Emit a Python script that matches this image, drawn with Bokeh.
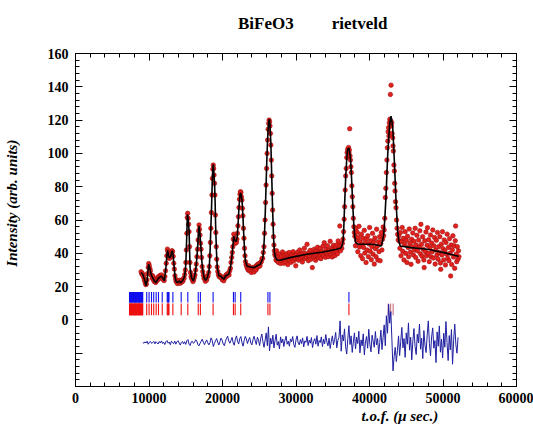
from bokeh.plotting import figure
from bokeh.models import Range1d, LinearAxis, SingleIntervalTicker, Title, Div, CustomJSTickFormatter
from bokeh.layouts import column
from bokeh.embed import file_html
from bokeh.resources import INLINE

# ---------------- data ----------------
title_left = "BiFeO3"
title_right = "rietveld"
x_title = "t.o.f. (\u03bc sec.)"
y_title = "Intensity (arb. units)"

# calculated profile (tof, intensity)
calc_tof = [8920, 9150, 9375, 9600, 9735, 9870, 9960, 10140, 10276, 10500, 10726, 10951, 11177, 11402,
            11627, 11852, 12078, 12303, 12420, 12528, 12640, 12753, 12870, 12979, 13100, 13204, 13320,
            13429, 13540, 13654, 13880, 14105, 14330, 14555, 14781, 14900, 15006, 15120, 15231, 15340,
            15456, 15520, 15591, 15772, 16042, 16267, 16430, 16583, 16700, 16808, 16920, 17033, 17150,
            17258, 17484, 17709, 17934, 18159, 18280, 18385, 18500, 18610, 18690, 18745, 18800, 18925,
            19000, 19060, 19170, 19286, 19511, 19736, 19961, 20187, 20412, 20862, 21100, 21313, 21538,
            21650, 21763, 21880, 21989, 22100, 22214, 22330, 22439, 22550, 22664, 22780, 22890, 23000,
            23115, 23340, 23791, 24241, 24692, 25142, 25367, 25480, 25600, 25720, 25830, 25950, 26060,
            26180, 26300, 26380, 26460, 26580, 26700, 26820, 26940, 27060, 27170, 27390, 27840, 29190,
            31450, 33700, 35500, 36180, 36400, 36500, 36620, 36760, 36880, 36990, 37100, 37210, 37320,
            37440, 37550, 37660, 37780, 37890, 38000, 38110, 38400, 38650, 39560, 40230, 41000, 41580,
            41760, 41940, 42100, 42260, 42370, 42480, 42600, 42710, 42820, 42930, 43050, 43160, 43270,
            43380, 43500, 43610, 43720, 43830, 44000, 44190, 45640, 47890, 50140, 51940, 52170]
calc_int = [28.4, 27.4, 24.4, 20.5, 23.4, 30.0, 33.4, 30.4, 27.4, 25.4, 23.4, 22.4, 24.4, 25.4,
            26.4, 25.4, 23.4, 31.4, 38.0, 41.8, 39.0, 37.4, 37.5, 38.4, 41.0, 41.4, 37.0,
            31.4, 26.0, 23.4, 22.4, 23.4, 22.4, 23.4, 25.4, 28.0, 33.4, 48.0, 63.4, 60.0,
            53.4, 42.0, 31.4, 25.4, 23.4, 27.4, 33.0, 41.4, 50.0, 56.5, 52.0, 45.4, 38.0,
            31.4, 25.4, 23.8, 25.4, 29.4, 38.0, 51.4, 66.0, 83.4, 91.0, 93.4, 90.0, 81.4,
            70.0, 57.4, 42.0, 31.4, 26.4, 26.4, 25.4, 24.4, 26.4, 27.4, 32.0, 39.4, 50.4,
            48.0, 47.4, 47.0, 49.4, 56.0, 65.4, 73.0, 76.4, 75.0, 71.4, 62.0, 51.4, 42.0,
            35.4, 32.4, 31.8, 31.4, 32.4, 33.4, 35.8, 37.0, 42.0, 52.0, 66.0, 84.0, 100.0,
            113.0, 119.0, 120.5, 117.0, 106.0, 86.0, 66.0, 50.0, 41.0, 38.0, 36.0, 35.8, 37.4,
            39.4, 40.8, 42.4, 43.4, 47.0, 55.0, 70.0, 85.4, 95.0, 101.4, 103.0, 103.0, 100.0,
            95.4, 86.0, 75.4, 64.0, 55.4, 50.0, 46.4, 45.6, 45.4, 45.4, 45.4, 45.0, 44.4,
            47.0, 51.4, 62.0, 75.4, 88.0, 99.4, 108.0, 115.4, 120.0, 122.4, 119.0, 115.4, 106.0,
            95.4, 83.0, 71.4, 62.0, 53.4, 47.0, 44.4, 43.4, 42.4, 40.4, 38.4, 38.2]

# observed points, (tof, intensity) pairs by region
obs_low = [
    (8920, 28.9), (9010, 27.5), (9100, 28.0), (9190, 26.8), (9280, 25.6), (9370, 24.0), (9460, 22.8),
    (9550, 21.2), (9640, 21.5), (9730, 24.0), (9810, 27.8), (9890, 31.5), (9960, 33.8), (10030, 32.6),
    (10110, 31.0), (10190, 29.5), (10270, 27.0), (10360, 26.8), (10450, 25.0), (10540, 26.2), (10630, 24.0),
    (10720, 23.0), (10810, 24.5), (10900, 22.5), (10990, 23.0), (11080, 24.6), (11170, 24.0), (11260, 25.8),
    (11350, 26.0), (11440, 24.9), (11530, 26.8), (11620, 26.0), (11710, 27.0), (11800, 25.0), (11890, 25.8),
    (11980, 24.0), (12070, 23.6), (12160, 26.0), (12250, 29.5), (12340, 34.0), (12420, 38.5), (12500, 42.5),
    (12570, 41.2), (12650, 39.5), (12730, 37.0), (12810, 38.0), (12890, 37.2), (12970, 38.9), (13050, 40.2),
    (13130, 41.6), (13210, 41.0), (13290, 38.2), (13370, 34.0), (13450, 30.5), (13530, 26.5), (13610, 24.5),
    (13700, 23.0), (13790, 22.8), (13880, 21.8), (13970, 23.5), (14060, 22.9), (14150, 23.8), (14240, 22.0),
    (14330, 23.0), (14420, 22.6), (14510, 24.0), (14600, 23.2), (14690, 24.8), (14780, 25.0), (14860, 27.2),
    (14940, 30.0), (15010, 34.5), (15080, 42.0), (15150, 52.0), (15210, 61.5), (15260, 64.0), (15320, 61.0),
    (15390, 57.5), (15450, 53.0), (15510, 44.0), (15570, 34.5), (15640, 28.5), (15720, 26.0), (15800, 25.0),
    (15890, 24.2), (15980, 23.0), (16070, 24.0), (16160, 25.5), (16250, 27.0), (16340, 30.0), (16430, 33.5),
    (16520, 38.0), (16600, 42.5), (16680, 48.0), (16750, 53.5), (16810, 57.0), (16870, 54.5), (16940, 51.0),
    (17010, 46.0), (17080, 42.5), (17150, 37.5), (17230, 32.0), (17310, 29.0), (17400, 26.8), (17490, 25.0),
    (17580, 24.5), (17670, 23.2), (17760, 24.5), (17850, 24.0), (17940, 25.8), (18030, 26.5), (18120, 28.5),
    (18200, 32.0), (18280, 38.5), (18350, 46.5), (18420, 55.0), (18490, 64.5), (18560, 75.0), (18630, 85.0),
    (18690, 90.5), (18740, 93.0), (18790, 91.0), (18850, 87.0), (18910, 82.0), (18970, 75.0), (19030, 63.0),
    (19090, 52.5), (19150, 44.0), (19210, 36.5), (19280, 31.8), (19360, 29.0), (19450, 27.2), (19540, 26.0),
    (19630, 26.8), (19720, 25.5), (19810, 26.0), (19900, 25.0), (19990, 24.0), (20080, 25.2), (20170, 23.5),
    (20260, 24.8), (20350, 25.5), (20440, 26.8), (20530, 26.0), (20620, 27.5), (20710, 26.8), (20800, 28.0),
    (20890, 27.0), (20980, 29.5), (21070, 31.0), (21160, 34.5), (21250, 37.5), (21330, 40.5), (21400, 44.0),
    (21470, 48.5), (21540, 51.5), (21610, 49.0), (21680, 47.5), (21750, 46.0), (21820, 47.5), (21890, 46.5),
    (21960, 48.5), (22030, 52.0), (22100, 56.5), (22170, 62.0), (22240, 67.5), (22310, 72.5), (22380, 75.5),
    (22440, 77.0), (22500, 76.5), (22570, 74.0), (22640, 72.0), (22710, 67.0), (22780, 62.5), (22850, 55.0),
    (22920, 49.0), (22990, 43.0), (23060, 38.5), (23130, 35.0), (23210, 33.2), (23300, 32.0), (23390, 31.0),
    (23480, 30.0), (23570, 32.5), (23660, 29.5), (23750, 31.0), (23840, 30.2), (23930, 28.5), (24020, 31.5),
    (24110, 29.8), (24200, 31.0), (24290, 28.8), (24380, 30.5), (24470, 32.0), (24560, 30.0), (24650, 32.8),
    (24740, 31.5), (24830, 33.5), (24920, 32.0), (25010, 33.8), (25100, 32.5), (25190, 34.5), (25280, 35.0),
    (25370, 36.8), (25460, 37.0), (25550, 40.5), (25640, 44.0), (25720, 52.0), (25790, 60.0), (25860, 70.5),
    (25930, 81.0), (26000, 91.0), (26070, 100.0), (26140, 108.0), (26210, 114.5), (26280, 118.0), (26340, 120.0),
    (26400, 119.0), (26460, 116.5), (26520, 112.0), (26580, 105.0), (26640, 96.0), (26700, 86.5), (26760, 76.0),
    (26820, 66.0), (26880, 57.5), (26940, 50.0), (27000, 45.0), (27060, 41.5), (27120, 39.5)]

obs_flat = [
    (27180, 38.5), (27270, 36.0), (27360, 41.5), (27450, 35.2), (27540, 37.8), (27630, 34.5), (27720, 39.6),
    (27810, 36.8), (27900, 33.9), (27990, 38.2), (28080, 35.5), (28170, 40.8), (28260, 36.2), (28350, 34.0),
    (28440, 38.9), (28530, 37.1), (28620, 35.0), (28710, 39.8), (28800, 36.5), (28890, 33.2), (28980, 38.0),
    (29070, 40.5), (29160, 35.8), (29250, 37.9), (29340, 34.6), (29430, 39.2), (29520, 36.8), (29610, 41.0),
    (29700, 35.5), (29790, 38.4), (29880, 36.9), (29970, 32.5), (30060, 39.6), (30150, 37.2), (30240, 40.8),
    (30330, 35.9), (30420, 38.7), (30510, 42.0), (30600, 36.4), (30690, 39.3), (30780, 37.5), (30870, 34.8),
    (30960, 40.2), (31050, 38.0), (31140, 43.0), (31230, 36.9), (31320, 39.8), (31410, 37.6), (31500, 45.4),
    (31590, 38.8), (31680, 35.6), (31770, 40.6), (31860, 38.2), (31950, 41.8), (32040, 36.5), (32130, 39.5),
    (32220, 31.4), (32310, 40.2), (32400, 37.8), (32490, 42.5), (32580, 38.6), (32670, 35.8), (32760, 41.2),
    (32850, 39.0), (32940, 43.6), (33030, 37.4), (33120, 40.6), (33210, 38.1), (33300, 42.9), (33390, 36.8),
    (33480, 41.0), (33570, 39.4), (33660, 44.2), (33750, 38.5), (33840, 46.4), (33930, 40.9), (34020, 37.6),
    (34110, 42.4), (34200, 39.8), (34290, 44.5), (34380, 38.0), (34470, 41.6), (34560, 40.0), (34650, 47.2),
    (34740, 39.2), (34830, 43.0), (34920, 37.8), (35010, 42.1), (35100, 44.8), (35190, 40.5), (35280, 38.6),
    (35370, 43.5), (35460, 41.0), (35550, 45.0), (35640, 39.7), (35730, 47.4), (35820, 42.6), (35910, 44.0),
    (35960, 56.4), (36050, 41.5), (36140, 45.5), (36230, 43.0), (36310, 46.0), (36390, 48.5)]

obs_peak37 = [
    (36470, 53.0), (36550, 60.5), (36620, 68.0), (36690, 78.0), (36760, 86.5), (36830, 91.0), (36900, 97.5),
    (36960, 100.5), (37030, 102.5), (37090, 101.0), (37150, 103.5), (37210, 100.2), (37260, 102.0),
    (37303, 114.8), (37350, 98.5), (37410, 96.0), (37470, 92.0), (37530, 88.5), (37600, 80.5), (37660, 74.0),
    (37730, 68.0), (37800, 61.0), (37870, 56.0), (37940, 52.5)]

obs_between = [
    (38010, 50.2), (38090, 44.5), (38170, 55.0), (38250, 47.8), (38330, 52.6), (38410, 41.0), (38490, 49.5),
    (38570, 56.2), (38650, 43.8), (38730, 47.0), (38810, 38.5), (38890, 51.5), (38970, 45.2), (39050, 36.8),
    (39130, 49.0), (39210, 43.5), (39290, 53.8), (39370, 40.2), (39450, 46.5), (39530, 34.5), (39610, 48.8),
    (39690, 42.0), (39770, 50.5), (39850, 38.0), (39930, 45.6), (40010, 55.5), (40090, 41.2), (40170, 47.5),
    (40250, 36.2), (40330, 44.0), (40410, 52.0), (40490, 39.5), (40570, 46.8), (40650, 33.5), (40730, 49.2),
    (40810, 42.8), (40890, 38.0), (40970, 54.5), (41050, 44.2), (41130, 36.0), (41210, 47.0), (41290, 41.0),
    (41370, 50.0), (41450, 35.5), (41530, 45.8), (41610, 52.5), (41690, 42.0), (41770, 48.5), (41850, 55.8)]

obs_peak43 = [
    (41920, 50.5), (42000, 54.0), (42080, 61.0), (42150, 73.5), (42220, 79.0), (42300, 88.5), (42370, 96.0),
    (42430, 103.4), (42490, 107.4), (42540, 113.0), (42590, 115.4), (42640, 110.5), (42700, 118.4),
    (42760, 120.5), (42800, 117.0), (42842, 135.4), (42900, 119.5), (42932, 141.0), (42970, 116.5),
    (43023, 118.4), (43080, 112.0), (43158, 109.4), (43200, 104.5), (43248, 101.4), (43320, 93.0),
    (43383, 89.4), (43430, 82.0), (43473, 77.4), (43540, 71.0), (43608, 67.4), (43680, 60.0), (43760, 55.0),
    (43834, 51.4), (43910, 48.0), (43990, 50.5), (44060, 47.4)]

obs_tail = [
    (44130, 43.0), (44210, 52.5), (44290, 38.5), (44370, 47.0), (44450, 55.5), (44530, 41.2), (44610, 49.0),
    (44690, 36.0), (44770, 45.5), (44850, 53.0), (44930, 40.0), (45010, 47.8), (45090, 34.5), (45170, 50.2),
    (45250, 43.5), (45330, 38.0), (45410, 54.6), (45490, 46.0), (45570, 40.8), (45650, 33.4), (45730, 48.5),
    (45810, 44.0), (45890, 52.2), (45970, 39.0), (46050, 47.2), (46130, 42.0), (46210, 55.0), (46290, 37.5),
    (46370, 45.0), (46450, 50.8), (46530, 41.5), (46610, 35.2), (46690, 48.0), (46770, 43.8), (46850, 53.5),
    (46930, 39.8), (46990, 57.4), (47070, 45.5), (47150, 38.2), (47230, 50.0), (47310, 42.5), (47390, 36.0),
    (47437, 31.4), (47520, 47.5), (47600, 41.0), (47680, 52.8), (47760, 38.5), (47840, 44.8), (47888, 55.4),
    (47970, 40.0), (48050, 48.2), (48130, 35.0), (48210, 43.5), (48290, 51.0), (48370, 38.0), (48450, 46.2),
    (48530, 41.0), (48610, 54.0), (48690, 37.2), (48770, 44.5), (48850, 49.5), (48930, 33.5), (49010, 42.0),
    (49090, 47.8), (49170, 39.0), (49250, 52.5), (49330, 36.5), (49410, 44.0), (49490, 40.5), (49570, 50.0),
    (49650, 34.2), (49690, 30.4), (49770, 45.5), (49850, 39.0), (49930, 53.0), (50010, 42.8), (50090, 36.0),
    (50170, 48.0), (50250, 41.5), (50330, 33.0), (50410, 46.5), (50490, 39.5), (50570, 51.5), (50650, 37.0),
    (50730, 43.5), (50810, 35.5), (50890, 48.8), (50970, 40.0), (51042, 26.4), (51110, 45.0), (51190, 33.2),
    (51270, 42.0), (51350, 50.5), (51430, 37.8), (51510, 44.5), (51590, 31.0), (51670, 47.5), (51717, 56.4),
    (51790, 39.5), (51870, 35.0), (51950, 44.0), (52030, 36.5), (52110, 41.5), (52170, 38.0)]

# difference curve (obs - calc, offset), sampled on a uniform tof grid
diff_tof_start = 9150
diff_tof_step = 150
diff_int = [
    -13.5, -14.0, -13.2, -13.9, -12.8, -14.6, -13.4, -13.0, -14.1, -13.6, -12.9, -14.4, -13.1, -13.8, -14.5, -13.0, -13.9, -12.6, -14.2, -13.4,
    -14.8, -13.1, -12.4, -14.0, -13.3, -14.9, -12.8, -13.7, -14.3, -12.7, -14.6, -13.2, -12.5, -13.9, -15.1, -13.6, -12.9, -14.4, -13.1, -14.7,
    -12.5, -11.8, -14.6, -15.4, -13.2, -12.9, -14.1, -13.4, -11.9, -12.6, -14.8, -15.6, -14.0, -12.8, -11.6, -13.5, -14.9, -13.2, -12.0, -13.8,
    -15.0, -13.6, -10.8, -12.4, -16.0, -14.2, -12.5, -11.2, -13.4, -15.1, -13.0, -10.9, -12.2, -14.6, -15.5, -12.9, -11.0, -9.8, -12.6, -14.0,
    -12.4, -10.5, -13.8, -15.2, -11.6, -9.6, -12.8, -14.5, -11.2, -10.0, -13.6, -15.8, -12.4, -9.9, -11.5, -14.2, -12.0, -10.6, -13.9, -15.0,
    -11.8, -9.8, -12.6, -14.8, -10.4, -12.2, -15.4, -11.0, -8.5, -13.2, -16.5, -12.0, -7.8,
    -15.5, -4.2, -18.6, -11.0, -14.5, -9.2, -16.8, -12.4, -8.6, -15.2, -13.0, -17.4, -10.2, -13.8, -11.5, -16.0, -12.2, -9.8, -14.6, -12.8,
    -15.8, -11.4, -13.2, -10.0, -14.8, -16.5, -12.0, -9.6, -13.9, -15.0, -11.8, -14.2, -10.8, -16.2, -12.6, -13.5, -9.9, -15.4, -12.2, -14.0,
    -10.6, -16.6, -13.0, -11.2, -14.6, -9.4, -15.8, -12.4, -13.6, -10.2, -16.0, -11.6, -14.4, -8.8, -13.2, -15.6, -11.0, -17.2, -12.8, -9.6,
    -15.0, -11.8, -7.5, -16.8, -12.2, -10.5, -0.6, -18.8, -9.0, -12.6, -5.4, -16.2, -20.5, -11.2, -3.5, -14.8, -9.6, -19.5, -13.4, -7.8,
    -17.5, -10.4, -14.2, -6.8, -19.8, -12.0, -15.6, -8.4, -21.0, -13.2, -10.0, -17.0, -5.6, -14.6, -19.2, -9.2, -12.8, -16.4, -7.0, -15.0,
    -11.2, -20.5, -13.6, -6.2, -17.8, -10.5, -3.0, -15.5, 2.5, -8.0,
    9.4, -2.0, 5.0, -12.0, -30.6, -22.0, -16.5, -25.0,
    -18.5, -9.6, -21.4, -13.0, -4.5, -16.8, -11.2, -22.5, -7.8, -14.6, -1.8, -18.2, -10.4, -24.0, -12.6, -5.2, -16.0, -20.8, -8.6, -13.8,
    -2.5, -17.6, -11.0, -23.2, -6.4, -15.2, -19.6, -9.0, -0.6, -14.0, -21.6, -10.2, -4.8, -17.0, -12.4, -25.6, -7.2, -15.8, -3.6, -19.4,
    -11.6, -22.8, -8.0, -16.4, -1.0, -13.6, -24.4, -9.4, -18.0, -5.8, -26.6, -12.2, -2.6, -15.0, -20.0, -10.5]

# reflection positions (tof) for the two tick rows
refl_blue = [7350, 7400, 7450, 7500, 7550, 7600, 7650, 7700, 7750, 7800, 7900, 7950, 8000, 8050, 8100,
             8150, 8200, 8250, 8300, 8350, 8450, 8500, 8550, 8600, 8650, 8700, 8750, 8800, 8850,
             8950, 9000, 9050, 9100, 9150,
             9690, 10010, 10340, 10640, 10975, 11290, 11800, 12480, 12560, 12640, 12720, 13250,
             14380, 15280, 16700, 16990, 18720, 21490, 21720, 22480, 26180, 26450, 37200]
refl_red = list(refl_blue)
refl_red_only = [42550, 42870, 43220]

# ticks
x_tick_step = 10000
y_tick_step = 20
y_hidden_labels = [-40, -20]

# ---------------- figure ----------------
FONT = "Liberation Serif"

p = figure(width=533, height=391, x_range=Range1d(0, 60000), y_range=Range1d(-40, 160),
           output_backend="svg", toolbar_location=None,
           min_border_left=72, min_border_right=17, min_border_top=17, min_border_bottom=41)
p.xgrid.visible = False
p.ygrid.visible = False
p.outline_line_color = "black"
p.outline_line_width = 1
p.background_fill_color = "white"
p.border_fill_color = "white"


def style_axis(ax, show_labels):
    ax.major_tick_in = 7
    ax.major_tick_out = 0
    ax.minor_tick_in = 4
    ax.minor_tick_out = 0
    ax.axis_line_color = "black"
    ax.major_tick_line_color = "black"
    ax.minor_tick_line_color = "black"
    ax.major_label_text_font = FONT
    ax.major_label_text_font_style = "bold"
    ax.major_label_text_color = "black"
    if show_labels:
        ax.major_label_text_font_size = "14px"
    else:
        ax.formatter = CustomJSTickFormatter(code="return ''")
        ax.major_label_text_font_size = "1px"
        ax.major_label_standoff = 0


xb = p.xaxis[0]
xb.ticker = SingleIntervalTicker(interval=x_tick_step, num_minor_ticks=5)
style_axis(xb, True)
xb.major_label_standoff = 6

yl = p.yaxis[0]
yl.ticker = SingleIntervalTicker(interval=y_tick_step, num_minor_ticks=5)
style_axis(yl, True)
yl.major_label_standoff = 7
yl.major_label_overrides = {v: "" for v in y_hidden_labels}
yl.axis_label = "\u00a0" * 9 + y_title
yl.axis_label_text_font = FONT
yl.axis_label_text_font_style = "bold italic"
yl.axis_label_text_font_size = "15px"
yl.axis_label_text_color = "black"
yl.axis_label_standoff = 25

xa = LinearAxis(ticker=SingleIntervalTicker(interval=x_tick_step, num_minor_ticks=5))
style_axis(xa, False)
p.add_layout(xa, "above")
yr = LinearAxis(ticker=SingleIntervalTicker(interval=y_tick_step, num_minor_ticks=5))
style_axis(yr, False)
p.add_layout(yr, "right")

# x axis title, placed under the tick labels towards the right
p.add_layout(Title(text=x_title, align="left", offset=286, standoff=0, text_font=FONT,
                   text_font_style="bold italic", text_font_size="15px", text_color="black"), "below")

# reflection tick rows
p.segment(x0=refl_blue, y0=[10.4] * len(refl_blue), x1=refl_blue, y1=[16.8] * len(refl_blue),
          line_color="#1010ee", line_width=1.1)
p.segment(x0=refl_red, y0=[2.8] * len(refl_red), x1=refl_red, y1=[9.8] * len(refl_red),
          line_color="#ee1010", line_width=1.1)
p.segment(x0=refl_red_only, y0=[2.8] * len(refl_red_only), x1=refl_red_only, y1=[9.8] * len(refl_red_only),
          line_color="#c05a6a", line_width=1.2, line_alpha=0.8)

# difference curve
diff_tof = [diff_tof_start + diff_tof_step * i for i in range(len(diff_int))]
p.line(diff_tof, diff_int, line_color="#1f1fa0", line_width=1)

# observed points
obs_all = obs_low + obs_flat + obs_peak37 + obs_between + obs_peak43 + obs_tail
obs_tof = [a for a, b in obs_all]
obs_int = [b for a, b in obs_all]
p.scatter(obs_tof, obs_int, marker="circle", size=4.5, fill_color="#e3211c", line_color="#a01010",
          line_width=0.6)

# calculated profile
p.line(calc_tof, calc_int, line_color="black", line_width=1.6)

# title line above the plot
head = Div(
    text=("<div style=\"font-family:'Liberation Serif'; font-weight:bold; font-size:17px; "
          "line-height:20px; padding-top:14px; white-space:nowrap; padding-left:238px; color:black\">"
          + title_left + "<span style=\"margin-left:38px\">" + title_right + "</span></div>"),
    width=533, height=36, margin=0)

layout = column(head, p, spacing=0)
open("out.html", "w").write(file_html(layout, INLINE))
